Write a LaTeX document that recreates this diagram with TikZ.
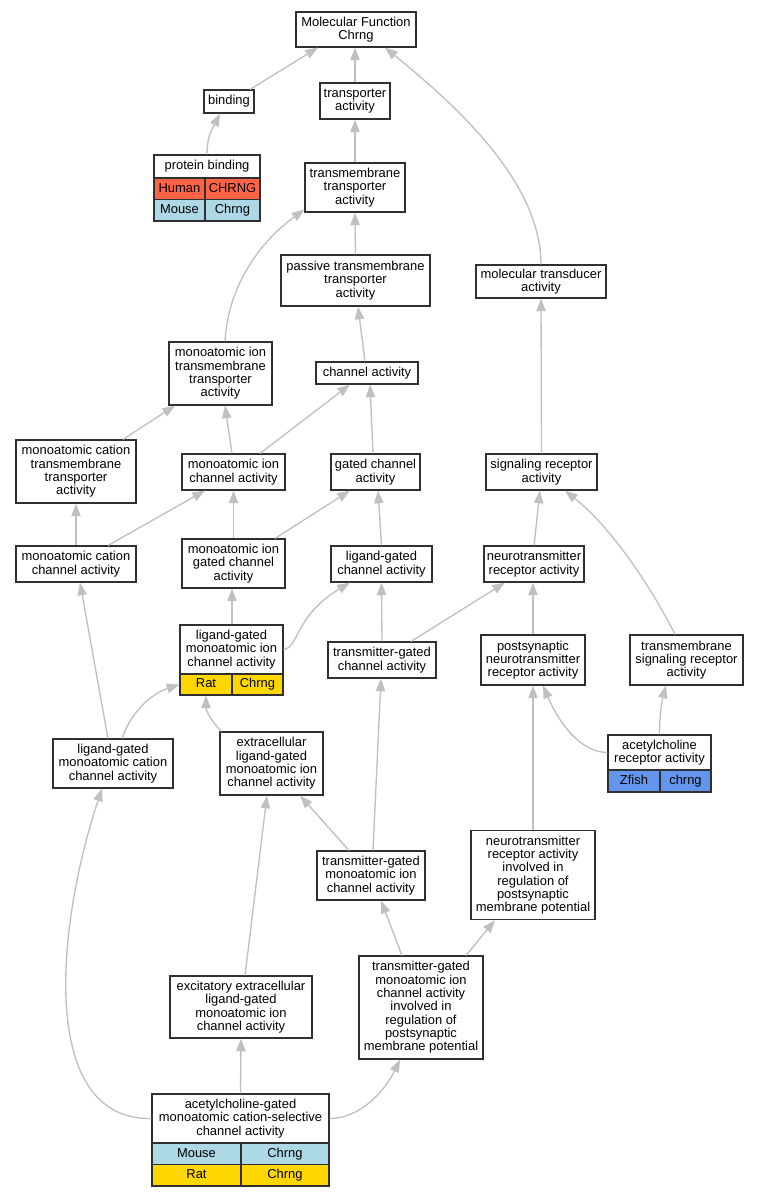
\documentclass[tikz,border=0pt]{standalone}
\usepackage{fontspec}
\setmainfont{Liberation Sans}
\usetikzlibrary{arrows.meta}
\definecolor{human}{HTML}{FF6347}
\definecolor{mouse}{HTML}{ADD8E6}
\definecolor{rat}{HTML}{FFD700}
\definecolor{zfish}{HTML}{6495ED}
\definecolor{edgegray}{HTML}{C0C0C0}
\definecolor{boxline}{HTML}{303030}
\tikzset{
  sz/.style 2 args={minimum width=#1*0.75pt, minimum height=#2*0.75pt},
  term/.style={draw=boxline, line width=0.85pt, fill=white, align=center, inner sep=0pt, font=\fontsize{9.7}{10}\selectfont},
  cell/.style={term, fill=#1, text height=7pt, text depth=2pt},
  edge/.style={draw=edgegray, line width=1pt, -{Triangle[length=9.5pt,width=7pt]}},
}
\begin{document}
\begin{tikzpicture}[x=0.75pt, y=-0.75pt]
            \fill[white] (0,0) rectangle (759,1197);
            \useasboundingbox (0,0) rectangle (759,1197);

            \node[term, sz={120}{35}] (mf) at (356,29.5) {Molecular Function\\Chrng};
            \node[term, sz={50}{23}] (binding) at (229,101.5) {binding};
            \node[term, sz={70}{36}] (transp) at (355,101) {transporter\\activity};
            \node[term, sz={106}{23}] (pb) at (207,166.5) {protein binding};
            \node[cell=human, sz={51}{21.5}] (pbh1) at (179.5,188.75) {Human};
            \node[cell=human, sz={55}{21.5}] (pbh2) at (232.5,188.75) {CHRNG};
            \node[cell=mouse, sz={51}{21.5}] (pbm1) at (179.5,210.25) {Mouse};
            \node[cell=mouse, sz={55}{21.5}] (pbm2) at (232.5,210.25) {Chrng};
            \node[term, sz={100}{49}] (tmt) at (355,187.5) {transmembrane\\transporter\\activity};
            \node[term, sz={149}{51}] (passive) at (355.5,280.5) {passive transmembrane\\transporter\\activity};
            \node[term, sz={130}{33}] (mtrans) at (541,281.5) {molecular transducer\\activity};
            \node[term, sz={103}{63}] (mitt) at (220.5,373.5) {monoatomic ion\\transmembrane\\transporter\\activity};
            \node[term, sz={102}{22}] (chan) at (367,373) {channel activity};
            \node[term, sz={120}{63}] (mctt) at (76,471.5) {monoatomic cation\\transmembrane\\transporter\\activity};
            \node[term, sz={103}{36}] (mic) at (233.5,472) {monoatomic ion\\channel activity};
            \node[term, sz={89}{36}] (gated) at (375.5,472) {gated channel\\activity};
            \node[term, sz={111}{36}] (sigrec) at (541.5,472) {signaling receptor\\activity};
            \node[term, sz={120}{36}] (mcc) at (76,564) {monoatomic cation\\channel activity};
            \node[term, sz={103}{49}] (migc) at (233.5,563.5) {monoatomic ion\\gated channel\\activity};
            \node[term, sz={101}{36}] (lgc) at (381.5,564) {ligand-gated\\channel activity};
            \node[term, sz={100}{36}] (ntr) at (534,564) {neurotransmitter\\receptor activity};
            \node[term, sz={103}{49}] (lgmic) at (231.5,649.5) {ligand-gated\\monoatomic ion\\channel activity};
            \node[cell=rat, sz={52}{21}] (lgr1) at (206,684.5) {Rat};
            \node[cell=rat, sz={51}{21}] (lgr2) at (257.5,684.5) {Chrng};
            \node[term, sz={108}{36}] (tgc) at (382,660) {transmitter-gated\\channel activity};
            \node[term, sz={104}{50}] (pntr) at (533,660) {postsynaptic\\neurotransmitter\\receptor activity};
            \node[term, sz={113}{50}] (tsr) at (686.5,660) {transmembrane\\signaling receptor\\activity};
            \node[term, sz={120}{49}] (lgmcc) at (113,763.5) {ligand-gated\\monoatomic cation\\channel activity};
            \node[term, sz={103}{63}] (elg) at (271.5,763.5) {extracellular\\ligand-gated\\monoatomic ion\\channel activity};
            \node[term, sz={103}{35}] (achr) at (659.5,752.5) {acetylcholine\\receptor activity};
            \node[cell=zfish, sz={52}{22}] (achz1) at (634,781) {Zfish};
            \node[cell=zfish, sz={51}{22}] (achz2) at (685.5,781) {chrng};
            \node[term, sz={108}{49}] (tgmic) at (371,875.5) {transmitter-gated\\monoatomic ion\\channel activity};
            \node[term, sz={124}{89}] (ntri) at (533,875) {neurotransmitter\\receptor activity\\involved in\\regulation of\\postsynaptic\\membrane potential};
            \node[term, sz={142}{62}] (exc) at (241,1007) {excitatory extracellular\\ligand-gated\\monoatomic ion\\channel activity};
            \node[term, sz={124}{103}] (tgi) at (421,1007.5) {transmitter-gated\\monoatomic ion\\channel activity\\involved in\\regulation of\\postsynaptic\\membrane potential};
            \node[term, sz={177}{49}] (achg) at (240.5,1118.5) {acetylcholine-gated\\monoatomic cation-selective\\channel activity};
            \node[cell=mouse, sz={89}{21.5}] (achgm1) at (196.5,1153.75) {Mouse};
            \node[cell=mouse, sz={88}{21.5}] (achgm2) at (285,1153.75) {Chrng};
            \node[cell=rat, sz={89}{21.5}] (achgr1) at (196.5,1175.25) {Rat};
            \node[cell=rat, sz={88}{21.5}] (achgr2) at (285,1175.25) {Chrng};

            \draw[edge] ([shift={(21,0)}]binding.north) -- ([shift={(-38,0)}]mf.south);
            \draw[edge] (transp.north) -- (mf.south -| transp.north);
            \draw[edge] (mtrans.north) .. controls +(0,-85) and +(65,53) .. ([shift={(29,0)}]mf.south);
            \draw[edge] (pb.north) .. controls +(0,-20) and +(-6,12) .. ([shift={(-9,0)}]binding.south);
            \draw[edge] (tmt.north) -- (transp.south);
            \draw[edge] (passive.north) -- (tmt.south);
            \draw[edge] ([shift={(4.5,0)}]mitt.north) .. controls +(3,-57) and +(-43,31) .. ([shift={(0,-3)}]tmt.south west);
            \draw[edge] ([shift={(-2,0)}]chan.north) -- ([shift={(2.5,0)}]passive.south);
            \draw[edge] ([shift={(47,0)}]mctt.north) -- ([shift={(-45.5,0)}]mitt.south);
            \draw[edge] ([shift={(-1.5,0)}]mic.north) -- ([shift={(4.5,0)}]mitt.south);
            \draw[edge] ([shift={(26.5,0)}]mic.north) -- ([shift={(-17,0)}]chan.south);
            \draw[edge] ([shift={(-2.5,0)}]gated.north) -- ([shift={(3,0)}]chan.south);
            \draw[edge] (sigrec.north) -- (mtrans.south);
            \draw[edge] (mcc.north) -- (mctt.south);
            \draw[edge] ([shift={(32,0)}]mcc.north) -- ([shift={(-28.5,0)}]mic.south);
            \draw[edge] (migc.north) -- (mic.south);
            \draw[edge] ([shift={(41.5,0)}]migc.north) -- ([shift={(-25.5,0)}]gated.south);
            \draw[edge] (lgc.north) -- ([shift={(2.5,0)}]gated.south);
            \draw[edge] (ntr.north) -- ([shift={(-1.5,0)}]sigrec.south);
            \draw[edge] ([shift={(0.5,0)}]lgmic.north) -- ([shift={(-1.5,0)}]migc.south);
            \draw[edge] (lgmic.east) .. controls +(15,-1.5) and +(-55,33) .. ([shift={(-31.5,0)}]lgc.south);
            \draw[edge] (tgc.north) -- (lgc.south);
            \draw[edge] ([shift={(29,0)}]tgc.north) -- ([shift={(-29,0)}]ntr.south);
            \draw[edge] (pntr.north) -- ([shift={(-1,0)}]ntr.south);
            \draw[edge] ([shift={(-11.5,0)}]tsr.north) .. controls +(-20,-40) and +(50,40) .. ([shift={(23.5,0)}]sigrec.south);
            \draw[edge] ([shift={(9,0)}]lgmcc.north) .. controls +(8,-24) and +(-30,10) .. (lgr1.west);
            \draw[edge] ([shift={(-5,0)}]lgmcc.north) -- ([shift={(4,0)}]mcc.south);
            \draw[edge] ([shift={(2,0)}]elg.north west) .. controls +(-10,-10) and +(0,15) .. (lgr1.south);
            \draw[edge] (achr.west) .. controls +(-28,0) and +(15,35) .. ([shift={(10,0)}]pntr.south);
            \draw[edge] (achr.north) .. controls +(0,-20) and +(-4,15) .. ([shift={(-20.5,0)}]tsr.south);
            \draw[edge] ([shift={(-22,0)}]tgmic.north) -- ([shift={(28.5,0)}]elg.south);
            \draw[edge] ([shift={(2,0)}]tgmic.north) -- ([shift={(-1,0)}]tgc.south);
            \draw[edge] (ntri.north) -- (pntr.south);
            \draw[edge] ([shift={(-19,0)}]tgi.north) -- ([shift={(10,0)}]tgmic.south);
            \draw[edge] ([shift={(45,0)}]tgi.north) -- ([shift={(-38,0)}]ntri.south);
            \draw[edge] ([shift={(4,0)}]exc.north) -- ([shift={(-4.5,0)}]elg.south);
            \draw[edge] (achg.north) -- (exc.south);
            \draw[edge] (achg.east) .. controls +(31,0) and +(-15,31) .. ([shift={(-21,0)}]tgi.south);
            \draw[edge] (achg.west) .. controls +(-112,2) and +(-47,142) .. ([shift={(-11,0)}]lgmcc.south);
        \end{tikzpicture}
\end{document}
